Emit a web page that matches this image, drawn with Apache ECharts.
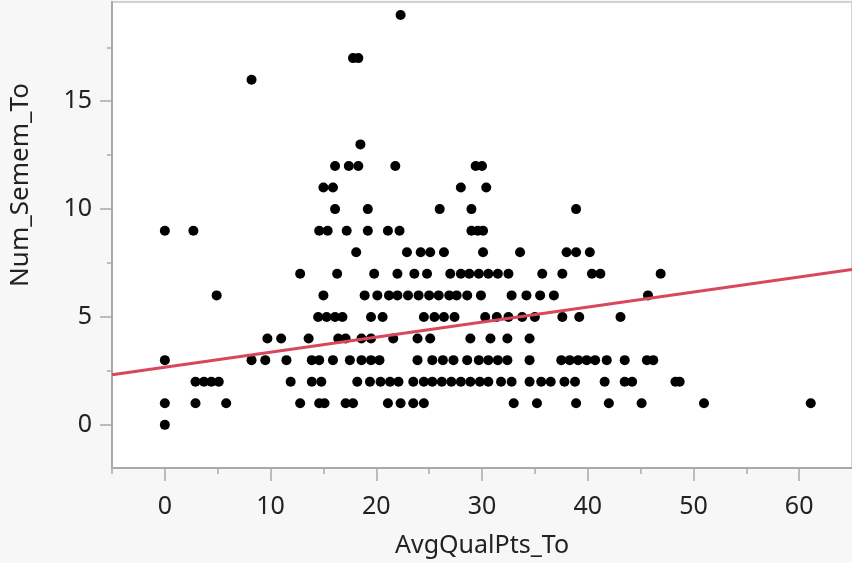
<!DOCTYPE html>
<html>
<head>
<meta charset="utf-8">
<title>Num_Semem_To vs AvgQualPts_To</title>
<script src="https://cdn.jsdelivr.net/npm/echarts@6/dist/echarts.min.js"></script>
<style>
  html, body { margin: 0; padding: 0; background: #f7f7f7; }
  #chart { width: 852px; height: 563px; }
</style>
</head>
<body>
<div id="chart"></div>
<script>
// AvgQualPts_To values, one list per Num_Semem_To value
var sem0 = [0];
var sem1 = [0, 2.9, 5.8, 12.8, 14.6, 15.1, 17.1, 17.8, 21.1, 22.3, 23.5, 24.5, 33.0, 35.2, 38.9, 42.0, 45.1, 51.0, 61.1];
var sem2 = [2.9, 3.7, 4.4, 5.1, 11.9, 13.9, 14.8, 18.2, 19.4, 20.4, 21.3, 22.1, 23.5, 24.5, 25.3, 26.2, 27.1, 28.0, 28.9, 29.8, 30.6, 31.8, 32.8, 34.5, 35.6, 36.5, 37.8, 38.8, 41.6, 43.5, 44.2, 48.3, 48.7];
var sem3 = [0, 8.2, 9.5, 11.5, 13.9, 14.6, 15.9, 17.5, 18.6, 19.5, 20.3, 23.9, 25.3, 26.3, 27.3, 28.6, 29.7, 30.6, 31.5, 32.4, 34.5, 37.5, 38.3, 39.1, 39.9, 40.7, 41.8, 43.5, 45.6, 46.2];
var sem4 = [9.7, 11.0, 13.6, 16.4, 17.1, 18.6, 19.5, 21.6, 23.9, 25.1, 28.9, 30.8, 32.4, 34.5];
var sem5 = [14.5, 15.3, 16.1, 16.8, 19.5, 20.6, 24.5, 25.5, 26.4, 27.4, 30.3, 31.4, 32.5, 33.8, 35.0, 37.6, 39.2, 43.1];
var sem6 = [4.9, 15.0, 18.9, 20.1, 21.2, 22.0, 23.0, 24.0, 25.0, 25.9, 26.9, 27.6, 28.6, 29.9, 32.8, 34.2, 35.5, 36.8, 45.7];
var sem7 = [12.8, 16.3, 19.8, 22.0, 23.6, 24.8, 27.0, 28.0, 28.8, 29.7, 30.6, 31.5, 32.5, 35.7, 37.6, 40.4, 41.2, 46.9];
var sem8 = [18.1, 22.9, 24.2, 25.1, 26.4, 30.1, 33.6, 38.0, 38.9, 40.2];
var sem9 = [0, 2.7, 14.6, 15.4, 17.2, 19.2, 21.1, 22.2, 29.0, 29.6, 30.1];
var sem10 = [16.1, 19.2, 26.0, 29.0, 38.9];
var sem11 = [15.0, 15.9, 28.0, 30.4];
var sem12 = [16.1, 17.4, 18.3, 21.8, 29.4, 30.0];
var sem13 = [18.5];
var sem16 = [8.2];
var sem17 = [17.8, 18.3];
var sem19 = [22.3];

var rows = [[0, sem0], [1, sem1], [2, sem2], [3, sem3], [4, sem4], [5, sem5], [6, sem6],
            [7, sem7], [8, sem8], [9, sem9], [10, sem10], [11, sem11], [12, sem12],
            [13, sem13], [16, sem16], [17, sem17], [19, sem19]];

// fitted line ends
var fitX = [-5, 65];
var fitY = [2.32, 7.20];

var xMajor = [0, 10, 20, 30, 40, 50, 60];
var xMinor = [-5, 5, 15, 25, 35, 45, 55];
var yMajor = [0, 5, 10, 15];
var yMinor = [2.5, 7.5, 12.5, 17.5];

var points = [];
rows.forEach(function (r) {
  r[1].forEach(function (x) { points.push([x, r[0]]); });
});
var fitLine = fitX.map(function (x, i) { return [x, fitY[i]]; });

var font = '"Noto Sans", "Open Sans", sans-serif';
var gray = '#a9a9a9';

var chart = echarts.init(document.getElementById('chart'));
chart.setOption({
  backgroundColor: '#f7f7f7',
  animation: false,
  grid: {
    left: 112, right: -5, top: 2, bottom: 95,
    show: true, backgroundColor: '#ffffff',
    borderColor: '#d2d2d2', borderWidth: 2
  },
  xAxis: [{
    type: 'value', min: -5, max: 65,
    name: 'AvgQualPts_To', nameLocation: 'middle', nameGap: 65,
    nameTextStyle: { fontFamily: font, fontSize: 25, color: '#222' },
    axisLine: { show: true, onZero: false, lineStyle: { color: gray, width: 2 } },
    axisTick: { show: true, customValues: xMajor, length: 13, lineStyle: { color: gray, width: 1.5 } },
    axisLabel: { customValues: xMajor, fontFamily: font, fontSize: 25, color: '#222', margin: 26 },
    splitLine: { show: false }
  }, {
    type: 'value', min: -5, max: 65, position: 'bottom',
    axisLine: { show: false, onZero: false },
    axisTick: { show: true, customValues: xMinor, length: 6, lineStyle: { color: gray, width: 1.5 } },
    axisLabel: { show: false },
    splitLine: { show: false }
  }],
  yAxis: [{
    type: 'value', min: -2, max: 19.6,
    name: 'Num_Semem_To', nameLocation: 'middle', nameGap: 78,
    nameTextStyle: { fontFamily: font, fontSize: 26, color: '#222', padding: [0, 0, 0, 100] },
    axisLine: { show: true, onZero: false, lineStyle: { color: gray, width: 2 } },
    axisTick: { show: true, customValues: yMajor, length: 12, lineStyle: { color: gray, width: 1.5 } },
    axisLabel: { customValues: yMajor, fontFamily: font, fontSize: 25, color: '#222', margin: 20 },
    splitLine: { show: false }
  }, {
    type: 'value', min: -2, max: 19.6, position: 'left',
    axisLine: { show: false, onZero: false },
    axisTick: { show: true, customValues: yMinor, length: 5, lineStyle: { color: gray, width: 1.5 } },
    axisLabel: { show: false },
    splitLine: { show: false }
  }],
  series: [{
    type: 'scatter',
    data: points,
    symbolSize: 10,
    itemStyle: { color: '#000000', opacity: 1 },
    z: 2
  }, {
    type: 'line',
    data: fitLine,
    showSymbol: false,
    lineStyle: { color: '#d7485b', width: 3 },
    z: 3
  }]
});
</script>
</body>
</html>
